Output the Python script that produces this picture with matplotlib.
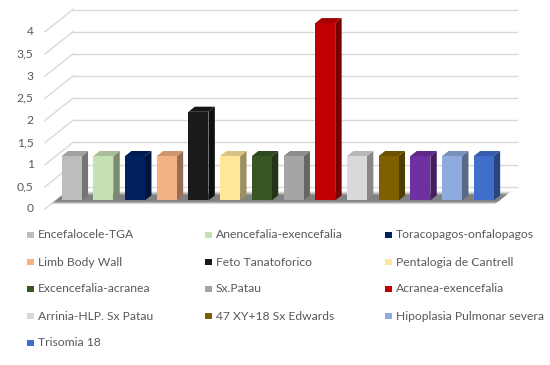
import matplotlib
matplotlib.use("Agg")
import matplotlib.pyplot as plt
from matplotlib.patches import Polygon, Rectangle
from matplotlib.colors import to_rgb
import numpy as np

# ---- data ----
categories = ["Encefalocele-TGA", "Anencefalia-exencefalia", "Toracopagos-onfalopagos",
              "Limb Body Wall", "Feto Tanatoforico", "Pentalogia de Cantrell",
              "Excencefalia-acranea", "Sx.Patau", "Acranea-exencefalia",
              "Arrinia-HLP. Sx Patau", "47 XY+18 Sx Edwards", None,
              "Hipoplasia Pulmonar severa", "Trisomia 18"]
values = [1, 1, 1, 1, 2, 1, 1, 1, 4, 1, 1, 1, 1, 1]
colors = ["#BDBDBD", "#C5E0B4", "#002060", "#F4B183", "#1A1A1A", "#FFE699",
          "#375623", "#A5A5A5", "#C00000", "#D9D9D9", "#7F6000", "#7030A0",
          "#8FAADC", "#3F6FCB"]
yticks = [0, 0.5, 1, 1.5, 2, 2.5, 3, 3.5, 4]
yticklabels = ["0", "0,5", "1", "1,5", "2", "2,5", "3", "3,5", "4"]

FONT = ["Lato", "DejaVu Sans"]
TXT = "#595959"
GRID = "#D9D9D9"
FS = 8.7

W, H = 550, 365
fig = plt.figure(figsize=(W / 100, H / 100), dpi=100)

# front plane geometry (pixels)
x_left, x_slot = 45.0, 31.7
y_zero, y_unit = 209.0, 44.3
depth_px = (28.0, 22.3)
n = len(values)
DC = depth_px[0] / x_slot        # full depth in category units
DV = depth_px[1] / y_unit        # full depth in value units
ymax = 4.6
ax = fig.add_axes([x_left / W, (H - y_zero) / H, (n * x_slot + depth_px[0]) / W, ymax * y_unit / H])
ax.set_xlim(0, n + DC)
ax.set_ylim(0, ymax)
ax.axis("off")

# walls: diagonal side lines + back gridlines
for v in yticks:
    ax.plot([0, DC], [v, v + DV], color=GRID, lw=1.0, clip_on=False, zorder=1)
    ax.plot([DC, n + DC], [v + DV, v + DV], color=GRID, lw=1.0, clip_on=False, zorder=1)
for v, lab in zip(yticks, yticklabels):
    ax.text(-0.36, v, lab, ha="right", va="center", fontsize=FS, color=TXT,
            family=FONT, clip_on=False)

# floor shadow
for f0, f1, a in [(0.22, 0.78, 0.25), (0.28, 0.70, 0.5), (0.33, 0.64, 0.5)]:
    ax.add_patch(Polygon([(0 + f0 * DC, f0 * DV), (n + f0 * DC, f0 * DV),
                          (n + f1 * DC, f1 * DV), (0 + f1 * DC, f1 * DV)],
                         closed=True, facecolor="#666666", edgecolor="none",
                         alpha=a, zorder=2, clip_on=False))

# bars
bw = 0.63
f_front, f_depth = 0.385, 0.23
ox, oy = f_front * DC, f_front * DV
dx, dy = f_depth * DC, f_depth * DV
xs = np.arange(n) + 0.5 + ox
bars = ax.bar(xs, values, width=bw, bottom=oy, color=colors, edgecolor="none",
              zorder=4, clip_on=False)
for rect, val, c in zip(bars, values, colors):
    x0 = rect.get_x()
    x1 = x0 + rect.get_width()
    b = rect.get_y()
    t = b + val
    rgb = np.array(to_rgb(c))
    side = tuple(rgb * 0.62)
    top = tuple(np.clip(rgb * 0.85, 0, 1))
    ax.add_patch(Polygon([(x1, b), (x1 + dx, b + dy), (x1 + dx, t + dy), (x1, t)],
                         closed=True, facecolor=side, edgecolor="none", zorder=3,
                         clip_on=False))
    ax.add_patch(Polygon([(x0, t), (x1, t), (x1 + dx, t + dy), (x0 + dx, t + dy)],
                         closed=True, facecolor=top, edgecolor="none", zorder=3,
                         clip_on=False))

# legend (3 columns, row-wise)
col_x = [27.0, 205.0, 385.0]
row_y0, row_dy = 235.0, 27.0
sq = 6.5
entries = [(lab, c) for lab, c in zip(categories, colors) if lab is not None]
for i, (lab, c) in enumerate(entries):
    r, k = divmod(i, 3)
    px, py = col_x[k], row_y0 + r * row_dy
    fig.add_artist(Rectangle((px / W, (H - py - sq / 2) / H), sq / W, sq / H,
                             transform=fig.transFigure, facecolor=c, edgecolor="none"))
    fig.text((px + sq + 4.2) / W, (H - py) / H, lab, ha="left", va="center",
             fontsize=FS, color=TXT, family=FONT)

fig.savefig("out.png", dpi=100)
